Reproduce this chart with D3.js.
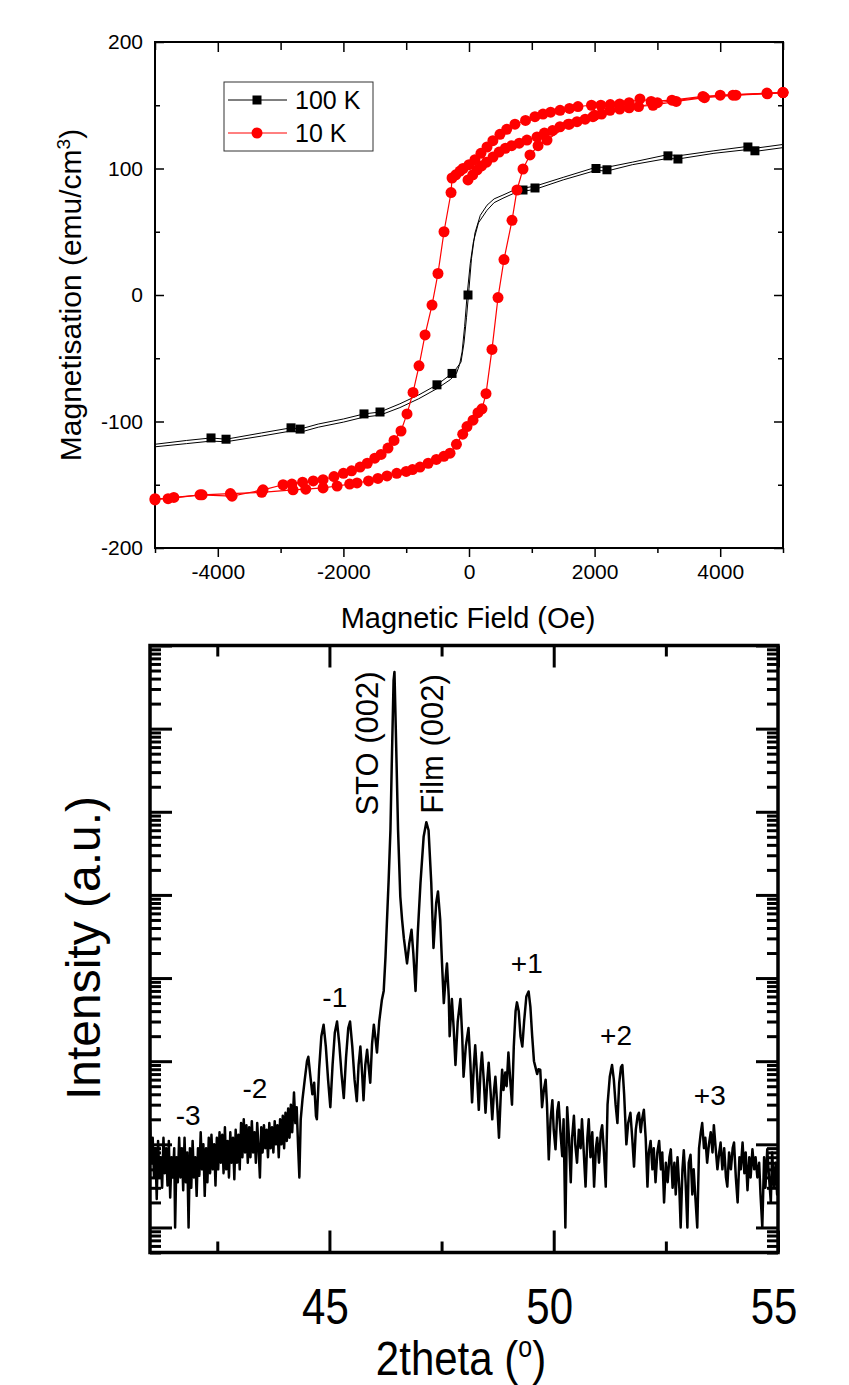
<!DOCTYPE html>
<html lang="en">
<head>
  <meta charset="UTF-8" />
  <title>Hysteresis loops and XRD scan</title>
  <script src="https://cdn.jsdelivr.net/npm/d3@7"></script>
  <style>
    html, body { margin: 0; padding: 0; background: #fff; }
    svg { display: block; }
    text { font-family: "Liberation Sans", Arial, sans-serif; fill: #000; }
  </style>
</head>
<body>
<script>
// ----------------------------
// Data: M(H) loops (field in Oe, magnetisation in emu/cm3)
// ----------------------------
const fieldMajor = [-4000, -2000, 0, 2000, 4000];
const fieldMinor = [-5000, -3000, -1000, 1000, 3000, 5000];
const magMajor = [-200, -100, 0, 100, 200];
const magMinor = [-150, -50, 50, 150];

const black100KDown = [
  [5000,119],[4553,116],[4441,117.5],[3900,114],[3327,110],[3168,111],[2600,105],[2197,101],
  [2022,101],[1500,93],[1051,86],[860,84.5],[764,84],[541,79],[400,76],[287,71],[180,63],
  [95,49],[40,29],[0,5],[-40,-18],[-80,-38],[-127,-53],[-200,-58],[-270,-62],[-510,-71],
  [-800,-79],[-1100,-86],[-1417,-92.5],[-1672,-94],[-2000,-98],[-2400,-102],[-2690,-106],
  [-2834,-105],[-3300,-109],[-3869,-114],[-4108,-113],[-4500,-115],[-5000,-118]
];
const black100KUp = [
  [-5000,-120],[-4500,-117.5],[-4108,-115.5],[-3869,-116],[-3300,-111.5],[-2834,-107.5],
  [-2690,-108.5],[-2400,-104.5],[-2000,-100.5],[-1672,-96.5],[-1417,-95],[-1100,-89],
  [-800,-82],[-510,-74],[-300,-67],[-200,-62],[-150,-55],[-110,-45],[-70,-25],[-30,0],
  [20,25],[70,42],[150,57],[287,67],[400,73],[541,76.5],[764,81.5],[860,82],[1051,83.5],
  [1500,91],[2022,98.5],[2197,98],[2600,103],[3168,108],[3327,107.5],[3900,112],[4441,115],
  [4553,113.5],[5000,116.5]
];
const black100KMarkers = [
  [-4108,-113],[-3869,-114],[-2834,-105],[-2690,-106],[-1672,-94],[-1417,-92.5],[-510,-71],
  [-270,-62],[-16,0],[860,83],[1051,84.6],[2022,100],[2197,99],[3168,110],[3327,107.5],
  [4441,117],[4553,114]
];

const red10KInitial = [
  [-16,91],[60,95],[130,99],[200,102],[280,105],[382,109],[480,113],[580,116],[680,118],
  [800,120],[923,122.5],[1083,125],[1200,128],[1330,130],[1449,133],[1580,135],[1720,137],
  [1850,139],[1974,141],[2110,143],[2245,146],[2400,147],[2550,148],[2700,149],[2930,150],
  [3300,153],[3750,156],[4250,158],[4750,159],[5000,160]
];
const red10KDown = [
  [5000,160],[4744,159.6],[4203,158],[3725,157],[3232,154],[2900,153],[2722,155],[2550,152],
  [2400,151],[2250,150.5],[2100,150],[1950,150],[1735,149],[1600,147.5],[1450,146],[1300,144.5],
  [1178,143],[1050,141],[900,138],[732,135],[600,131],[493,127],[380,122],[287,117],[190,112],
  [95,107],[0,103],[-95,100],[-143,98],[-210,95],[-270,92.5],[-286,81],[-398,50],[-494,17],
  [-589,-8],[-700,-31.6],[-796,-56],[-891,-77],[-987,-94],[-1083,-107.5],[-1194,-115],
  [-1290,-121],[-1400,-126],[-1500,-129],[-1620,-133],[-1735,-136],[-1870,-139],[-2000,-141],
  [-2150,-143.5],[-2324,-146],[-2480,-147],[-2650,-148],[-2820,-149.5],[-2961,-150],
  [-3280,-154],[-3773,-159],[-4283,-158],[-4792,-161],[-5000,-161]
];
const red10KUp = [
  [-5000,-162],[-4700,-160],[-4250,-158],[-3800,-157],[-3300,-156],[-2802,-154],[-2600,-153.5],
  [-2324,-152.5],[-2100,-151],[-1900,-149.5],[-1783,-148.6],[-1600,-147],[-1450,-145],
  [-1305,-143],[-1150,-141],[-1000,-139.5],[-900,-138],[-780,-136],[-650,-133],[-520,-130],
  [-400,-127.5],[-302,-125],[-200,-118],[-100,-110],[-32,-104],[64,-99],[143,-93],[207,-90],
  [271,-78],[366,-43],[462,-2],[557,28],[685,59],[764,83],[860,99.6],[971,110.7],[1100,118],
  [1242,122.5],[1600,135],[2000,142],[3000,152],[4000,158],[5000,160]
];

// ----------------------------
// Data: XRD 2theta scan (degrees, intensity in a.u.)
// ----------------------------
const thetaMajor = [45, 50, 55];
const thetaMinor = [42.5, 47.5, 52.5];
const intensityDecades = [1, 10, 100, 1e3, 1e4, 1e5, 1e6, 1e7];

const xrdScan = [
  [41.00,18],[41.03,6],[41.06,12],[41.09,4],[41.12,9],[41.15,2.2],[41.18,11],[41.21,4],[41.24,7],
  [41.27,3],[41.30,12],[41.33,4.5],[41.36,9],[41.39,3.2],[41.42,11],[41.45,2.3],[41.48,7],[41.51,4],
  [41.54,9],[41.56,1.0],[41.59,7],[41.62,3.5],[41.65,12],[41.68,4],[41.71,9],[41.74,2.8],
  [41.77,12],[41.80,3.5],[41.83,8],[41.86,1.0],[41.89,9],[41.92,3],[41.95,11],[41.98,4],
  [42.01,7],[42.04,2.4],[42.07,9],[42.10,4.2],[42.13,14],[42.16,5],[42.19,10],[42.22,2.4],
  [42.25,9],[42.28,3.5],[42.31,12],[42.34,4.5],[42.37,13],[42.40,5],[42.43,10],[42.46,3.2],
  [42.49,12],[42.52,5],[42.55,14],[42.58,6],[42.61,13],[42.64,4.5],[42.67,16],[42.70,5],
  [42.73,11],[42.76,4],[42.79,14],[42.82,6],[42.85,12],[42.88,3.8],[42.91,15],[42.94,6],
  [42.97,13],[43.00,5],[43.03,18],[43.06,7],[43.09,20],[43.12,8],[43.15,17],[43.18,6],
  [43.21,16],[43.24,7],[43.27,19],[43.30,8],[43.33,14],[43.36,6],[43.39,18],[43.42,9],
  [43.45,4],[43.48,16],[43.51,8],[43.54,17],[43.57,9],[43.60,15],[43.63,7],[43.66,18],
  [43.69,9],[43.72,16],[43.75,8],[43.78,19],[43.81,10],[43.84,17],[43.87,7],[43.90,20],
  [43.93,10],[43.96,22],[43.99,9],[44.02,24],[44.05,11],[44.08,27],[44.11,12],[44.14,30],
  [44.17,14],[44.21,42],[44.24,18],[44.27,28],[44.30,10],[44.33,4],[44.36,20],[44.40,35],
  [44.45,60],[44.50,100],[44.53,113],[44.57,70],[44.62,40],[44.66,55],[44.70,22],[44.72,20],
  [44.77,80],[44.82,200],[44.87,275],[44.92,150],[44.97,60],[45.02,28],[45.07,90],[45.12,220],
  [45.17,300],[45.22,160],[45.27,70],[45.32,36],[45.37,110],[45.42,250],[45.46,300],[45.51,150],
  [45.56,60],[45.61,33],[45.65,90],[45.69,150],[45.73,70],[45.76,34],[45.80,90],[45.84,137],
  [45.88,80],[45.91,55],[45.95,160],[45.99,275],[46.03,180],[46.06,127],[46.11,300],[46.17,550],
  [46.21,700],[46.25,1800],[46.28,4500],[46.32,15000],[46.36,60000],[46.39,380000],
  [46.43,3800000],[46.45,4800000],[46.48,970000],[46.53,60000],[46.58,9500],[46.62,5000],
  [46.66,3000],[46.73,1500],[46.78,2600],[46.83,3800],[46.87,2000],[46.92,700],[46.97,3500],
  [47.03,14000],[47.10,50000],[47.16,75000],[47.21,60000],[47.27,14000],[47.32,2300],
  [47.38,8000],[47.42,11000],[47.47,5000],[47.51,1500],[47.55,500],[47.59,1000],[47.62,1500],
  [47.66,600],[47.68,200],[47.73,560],[47.77,250],[47.81,90],[47.86,300],[47.92,560],[47.96,200],
  [47.99,65],[48.04,150],[48.10,250],[48.14,100],[48.18,32],[48.22,90],[48.25,155],[48.29,70],
  [48.33,26],[48.37,80],[48.40,127],[48.44,60],[48.48,24],[48.52,60],[48.55,96],[48.59,45],
  [48.63,20],[48.67,45],[48.70,65],[48.74,30],[48.78,12],[48.82,40],[48.85,79],[48.88,45],
  [48.92,73],[48.95,50],[48.99,127],[49.03,60],[49.07,30],[49.11,150],[49.15,400],[49.18,510],
  [49.22,400],[49.26,200],[49.30,150],[49.34,300],[49.39,600],[49.44,690],[49.48,450],
  [49.52,200],[49.56,100],[49.59,86],[49.63,70],[49.66,80],[49.70,79],[49.74,28],[49.78,45],
  [49.82,60],[49.85,30],[49.89,6.6],[49.93,20],[49.97,34],[50.00,15],[50.04,8.7],[50.08,25],
  [50.11,32],[50.15,14],[50.19,7.2],[50.22,20],[50.26,1.0],[50.30,28],[50.34,12],[50.38,3.5],
  [50.41,12],[50.45,22],[50.48,10],[50.52,6],[50.56,15],[50.60,9],[50.63,20],[50.67,8],
  [50.71,3.1],[50.75,12],[50.78,20],[50.82,7],[50.86,14],[50.90,3.1],[50.94,9],[50.97,12],
  [51.01,6],[51.05,14],[51.08,17],[51.12,8],[51.16,3.1],[51.20,30],[51.25,65],[51.30,90],
  [51.34,60],[51.38,30],[51.42,18],[51.46,55],[51.50,85],[51.53,90],[51.57,40],[51.62,10],
  [51.66,18],[51.71,24],[51.75,12],[51.79,5.4],[51.83,15],[51.87,22],[51.90,24],[51.94,14],
  [51.97,20],[52.01,26],[52.05,12],[52.09,3.1],[52.12,8],[52.16,11],[52.20,5],[52.23,9],
  [52.27,3.5],[52.31,8],[52.35,11],[52.39,5],[52.42,8],[52.46,2.0],[52.50,6],[52.54,3.5],
  [52.58,7],[52.61,8.7],[52.65,3],[52.69,6],[52.72,2.5],[52.76,7],[52.80,3],[52.83,1.0],
  [52.87,5],[52.90,8.5],[52.94,3.5],[52.98,1.0],[53.01,6],[53.05,7.5],[53.09,2.5],[53.12,5],
  [53.16,2.2],[53.20,1.0],[53.24,9],[53.28,14],[53.31,18],[53.35,9],[53.38,12],[53.42,6],
  [53.46,10],[53.50,14],[53.54,8],[53.57,17],[53.61,9],[53.65,5],[53.69,8],[53.72,10.5],
  [53.76,5],[53.80,9],[53.84,4],[53.87,3.1],[53.91,8],[53.95,5],[53.99,9],[54.02,10.5],
  [54.06,4],[54.10,2.0],[54.14,7],[54.17,5],[54.21,10.5],[54.25,4.5],[54.28,8],[54.32,2.8],
  [54.36,7],[54.39,4],[54.43,8.7],[54.47,5],[54.50,7],[54.54,4],[54.58,6],[54.61,2.5],
  [54.65,1.0],[54.69,7],[54.72,3],[54.76,8.7],[54.80,4],[54.84,2.0],[54.87,8],[54.91,3],
  [54.95,6],[54.98,2.5],[55.00,5]
];

const peakLabels = [
  { text: "-3", x: 41.85, y: 17 },
  { text: "-2", x: 43.34, y: 36 },
  { text: "-1", x: 45.12, y: 450 },
  { text: "+1", x: 49.40, y: 1160 },
  { text: "+2", x: 51.39, y: 158 },
  { text: "+3", x: 53.48, y: 30 }
];

// ----------------------------
// SVG container
// ----------------------------
const svg = d3.select("body").append("svg")
  .attr("width", 849)
  .attr("height", 1385);

// tick helper: draws an axis, strips the domain line, styles the ticks
function addAxis(g, axis, transform, strokeW, fontSize) {
  const a = g.append("g")
    .attr("transform", transform)
    .call(axis);
  a.attr("font-size", fontSize || 10)
    .attr("font-family", "Liberation Sans, Arial, sans-serif");
  a.select(".domain").remove();
  a.selectAll(".tick line").attr("stroke", "#000").attr("stroke-width", strokeW);
  a.selectAll(".tick text").attr("fill", "#000");
  return a;
}

// ============================
// Top panel: magnetisation loops
// ============================
const magX = d3.scaleLinear().domain([-5000, 5000]).range([155, 783]);
const magY = d3.scaleLinear().domain([-200, 200]).range([548, 42]);
const mag = svg.append("g");
const noLabel = () => "";

addAxis(mag, d3.axisBottom(magX).tickValues(fieldMajor).tickSize(9).tickPadding(7).tickFormat(d => String(d)),
  `translate(0,${magY(-200)})`, 1.5, 21);
addAxis(mag, d3.axisBottom(magX).tickValues(fieldMinor).tickSize(5).tickFormat(noLabel),
  `translate(0,${magY(-200)})`, 1.5);
addAxis(mag, d3.axisTop(magX).tickValues(fieldMajor).tickSize(-10).tickFormat(noLabel),
  `translate(0,${magY(200)})`, 1.5);
addAxis(mag, d3.axisTop(magX).tickValues(fieldMinor).tickSize(-8).tickFormat(noLabel),
  `translate(0,${magY(200)})`, 1.5);
addAxis(mag, d3.axisLeft(magY).tickValues(magMajor).tickSize(-9).tickPadding(12).tickFormat(d => String(d)),
  `translate(${magX(-5000)},0)`, 1.5, 21);
addAxis(mag, d3.axisLeft(magY).tickValues(magMinor).tickSize(-5).tickFormat(noLabel),
  `translate(${magX(-5000)},0)`, 1.5);
addAxis(mag, d3.axisRight(magY).tickValues(magMajor).tickSize(-9).tickFormat(noLabel),
  `translate(${magX(5000)},0)`, 1.5);
addAxis(mag, d3.axisRight(magY).tickValues(magMinor).tickSize(-5).tickFormat(noLabel),
  `translate(${magX(5000)},0)`, 1.5);

mag.append("rect")
  .attr("x", magX(-5000)).attr("y", magY(200))
  .attr("width", magX(5000) - magX(-5000)).attr("height", magY(-200) - magY(200))
  .attr("fill", "none").attr("stroke", "#000").attr("stroke-width", 2);

const magLine = d3.line().x(d => magX(d[0])).y(d => magY(d[1]));

// 100 K (black, thin double strand with square markers)
[black100KDown, black100KUp].forEach(branch => {
  mag.append("path").attr("d", magLine(branch))
    .attr("fill", "none").attr("stroke", "#000").attr("stroke-width", 1);
});
mag.selectAll("rect.sq").data(black100KMarkers).join("rect")
  .attr("class", "sq")
  .attr("x", d => magX(d[0]) - 4.5).attr("y", d => magY(d[1]) - 4.5)
  .attr("width", 9).attr("height", 9).attr("fill", "#000");

// 10 K (red, circles on every point)
[red10KInitial, red10KDown, red10KUp].forEach(branch => {
  mag.append("path").attr("d", magLine(branch))
    .attr("fill", "none").attr("stroke", "#ff0000").attr("stroke-width", 1.2);
  mag.append("g").selectAll("circle").data(branch).join("circle")
    .attr("cx", d => magX(d[0])).attr("cy", d => magY(d[1]))
    .attr("r", 5.5).attr("fill", "#ff0000");
});

// legend
const legend = mag.append("g");
legend.append("rect").attr("x", 224).attr("y", 82).attr("width", 149).attr("height", 69)
  .attr("fill", "#fff").attr("stroke", "#333").attr("stroke-width", 1);
legend.append("line").attr("x1", 228).attr("x2", 287).attr("y1", 100).attr("y2", 100)
  .attr("stroke", "#000").attr("stroke-width", 1);
legend.append("rect").attr("x", 252.5).attr("y", 95.5).attr("width", 9).attr("height", 9).attr("fill", "#000");
legend.append("text").attr("x", 295).attr("y", 109).style("font-size", "25px").text("100 K");
legend.append("line").attr("x1", 228).attr("x2", 287).attr("y1", 133).attr("y2", 133)
  .attr("stroke", "#ff0000").attr("stroke-width", 1);
legend.append("circle").attr("cx", 257).attr("cy", 133).attr("r", 5.5).attr("fill", "#ff0000");
legend.append("text").attr("x", 295).attr("y", 142).style("font-size", "25px").text("10 K");

// axis titles
mag.append("text").attr("x", 468).attr("y", 628).attr("text-anchor", "middle")
  .style("font-size", "29px").text("Magnetic Field (Oe)");
const magYTitle = mag.append("text")
  .attr("transform", "translate(81,295) rotate(-90)")
  .attr("text-anchor", "middle").style("font-size", "30px");
magYTitle.append("tspan").text("Magnetisation (emu/cm");
magYTitle.append("tspan").attr("dy", -11).style("font-size", "19px").text("3");
magYTitle.append("tspan").attr("dy", 11).text(")");

// ============================
// Bottom panel: XRD scan (log intensity)
// ============================
const xrdX = d3.scaleLinear().domain([41, 55]).range([150, 778]);
const xrdY = d3.scaleLog().domain([0.5, 1e7]).range([1252.5, 645.5]);
const xrd = svg.append("g");

// minor log ticks 2..9 in every decade inside the domain
const logMinor = [];
[0.1, 1, 10, 100, 1e3, 1e4, 1e5, 1e6].forEach(dec => {
  for (let k = 2; k <= 9; k++) {
    const v = dec * k;
    if (v >= 0.5 && v < 1e7) logMinor.push(v);
  }
});

addAxis(xrd, d3.axisBottom(xrdX).tickValues(thetaMajor).tickSize(-22).tickFormat(noLabel),
  `translate(0,${xrdY(0.5)})`, 3);
addAxis(xrd, d3.axisBottom(xrdX).tickValues(thetaMinor).tickSize(-11).tickFormat(noLabel),
  `translate(0,${xrdY(0.5)})`, 3);
addAxis(xrd, d3.axisTop(xrdX).tickValues(thetaMajor).tickSize(-22).tickFormat(noLabel),
  `translate(0,${xrdY(1e7)})`, 3);
addAxis(xrd, d3.axisTop(xrdX).tickValues(thetaMinor).tickSize(-11).tickFormat(noLabel),
  `translate(0,${xrdY(1e7)})`, 3);
addAxis(xrd, d3.axisLeft(xrdY).tickValues(intensityDecades).tickSize(-22).tickFormat(noLabel),
  `translate(${xrdX(41)},0)`, 3);
addAxis(xrd, d3.axisLeft(xrdY).tickValues(logMinor).tickSize(-11).tickFormat(noLabel),
  `translate(${xrdX(41)},0)`, 3);
addAxis(xrd, d3.axisRight(xrdY).tickValues(intensityDecades).tickSize(-22).tickFormat(noLabel),
  `translate(${xrdX(55)},0)`, 3);
addAxis(xrd, d3.axisRight(xrdY).tickValues(logMinor).tickSize(-11).tickFormat(noLabel),
  `translate(${xrdX(55)},0)`, 3);

xrd.append("rect")
  .attr("x", xrdX(41)).attr("y", xrdY(1e7))
  .attr("width", xrdX(55) - xrdX(41)).attr("height", xrdY(0.5) - xrdY(1e7))
  .attr("fill", "none").attr("stroke", "#000").attr("stroke-width", 3.5);

xrd.append("clipPath").attr("id", "xrd-clip").append("rect")
  .attr("x", xrdX(41)).attr("y", xrdY(1e7))
  .attr("width", xrdX(55) - xrdX(41)).attr("height", xrdY(0.5) - xrdY(1e7));

xrd.append("path")
  .attr("clip-path", "url(#xrd-clip)")
  .attr("d", d3.line().x(d => xrdX(d[0])).y(d => xrdY(d[1]))(xrdScan))
  .attr("fill", "none").attr("stroke", "#000").attr("stroke-width", 2.5)
  .attr("stroke-linejoin", "round");

// x tick labels (tall, narrow look of the original)
xrd.selectAll("text.xt").data(thetaMajor).join("text")
  .attr("class", "xt")
  .attr("transform", d => `translate(${xrdX(d) - 4},1324) scale(1,1.2)`)
  .attr("text-anchor", "middle").style("font-size", "42px")
  .text(d => d);

// peak annotations
xrd.selectAll("text.pk").data(peakLabels).join("text")
  .attr("class", "pk")
  .attr("x", d => xrdX(d.x)).attr("y", d => xrdY(d.y))
  .attr("text-anchor", "middle").style("font-size", "28px")
  .text(d => d.text);

xrd.append("text")
  .attr("transform", `translate(${xrdX(46.08)},${xrdY(9e4)}) rotate(-90)`)
  .style("font-size", "31px").text("STO (002)");
xrd.append("text")
  .attr("transform", `translate(${xrdX(47.53)},${xrdY(9.5e4)}) rotate(-90)`)
  .style("font-size", "31px").text("Film (002)");

// axis titles
const xrdXTitle = xrd.append("text")
  .attr("transform", "translate(461,1375) scale(1,1.15)")
  .attr("text-anchor", "middle").style("font-size", "42px");
xrdXTitle.append("tspan").text("2theta (");
xrdXTitle.append("tspan").attr("dy", -16).style("font-size", "25px").text("o");
xrdXTitle.append("tspan").attr("dy", 16).text(")");

xrd.append("text")
  .attr("transform", "translate(100,948) rotate(-90)")
  .attr("text-anchor", "middle").style("font-size", "48px")
  .text("Intensity (a.u.)");
</script>
</body>
</html>
